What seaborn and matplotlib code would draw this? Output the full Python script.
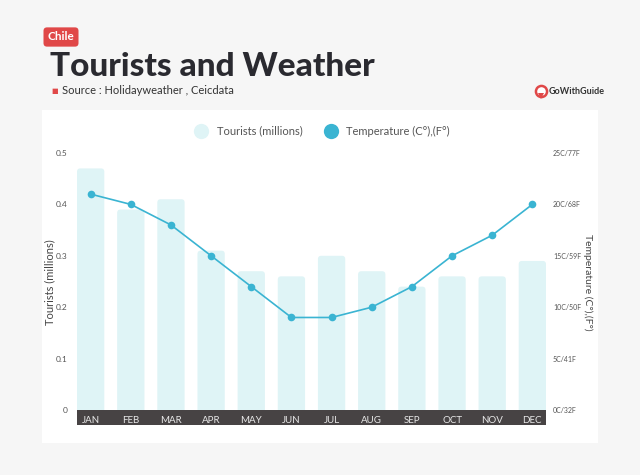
import numpy as np
import pandas as pd
import matplotlib.pyplot as plt
import seaborn as sns
from matplotlib.patches import FancyBboxPatch, Rectangle
from matplotlib.lines import Line2D

# data
months = ['JAN', 'FEB', 'MAR', 'APR', 'MAY', 'JUN', 'JUL', 'AUG', 'SEP', 'OCT', 'NOV', 'DEC']
tourists = [0.47, 0.39, 0.41, 0.31, 0.27, 0.26, 0.30, 0.27, 0.24, 0.26, 0.26, 0.29]
temperature = [21, 20, 18, 15, 12, 9, 9, 10, 12, 15, 17, 20]
temp_ticks = [0, 5, 10, 15, 20, 25]
temp_labels = ['0C/32F', '5C/41F', '10C/50F', '15C/59F', '20C/68F', '25C/77F']

bar_color = '#dff4f6'
line_color = '#3ab4d2'
text_gray = '#555555'

df = pd.DataFrame({'month': months, 'tourists': tourists, 'temp': temperature})

sns.set_style('white')
plt.rcParams['font.family'] = ['Lato', 'DejaVu Sans']

fig = plt.figure(figsize=(6.4, 4.75), dpi=100)
fig.patch.set_facecolor('#f6f6f6')

# white panel
fig.patches.append(Rectangle((42 / 640, 1 - 443 / 475), 556 / 640, 333 / 475,
                             transform=fig.transFigure, facecolor='white',
                             edgecolor='none', zorder=-10))

ax = fig.add_axes([77 / 640, 1 - 410 / 475, 469 / 640, 257 / 475])
ax.set_facecolor('none')

sns.barplot(data=df, x='month', y='tourists', color=bar_color, width=0.68,
            saturation=1, ax=ax)

# rounded tops for bars
for p in list(ax.patches):
    x, w, h = p.get_x(), p.get_width(), p.get_height()
    p.remove()
    ax.add_patch(FancyBboxPatch((x, -0.02), w, h + 0.02,
                                boxstyle='round,pad=0,rounding_size=0.08',
                                mutation_aspect=0.08, facecolor=bar_color,
                                edgecolor='none', zorder=1))

ax.set_ylim(0, 0.5)
ax.set_xlim(-0.34, 11.34)
ax.set_yticks([0, 0.1, 0.2, 0.3, 0.4, 0.5])
ax.set_yticklabels(['0', '0.1', '0.2', '0.3', '0.4', '0.5'])
ax.tick_params(axis='y', labelsize=6, colors=text_gray, length=0, pad=7)
ax.set_ylabel('')
ax.set_xlabel('')
ax.set_xticks(range(12))
ax.set_xticklabels(months)
ax.tick_params(axis='x', labelsize=7, colors='#e8e8e8', length=0, pad=4)
sns.despine(ax=ax, left=True, bottom=True)

# dark band behind month labels
ax.add_patch(Rectangle((0, -15 / 257), 1, 15 / 257, transform=ax.transAxes,
                       facecolor='#474344', edgecolor='none', clip_on=False,
                       zorder=0))

ax2 = ax.twinx()
sns.lineplot(x=np.arange(12), y=temperature, ax=ax2, color=line_color,
             linewidth=1.2, marker='o', markersize=5.5, markeredgewidth=0)
ax2.set_ylim(0, 25)
ax2.set_xlim(-0.34, 11.34)
ax2.set_yticks(temp_ticks)
ax2.set_yticklabels(temp_labels)
ax2.tick_params(axis='y', labelsize=5, colors=text_gray, length=0, pad=5)
ax2.set_ylabel('')
sns.despine(ax=ax2, left=True, bottom=True, right=True)

# axis titles placed where the reference has them
fig.text(50 / 640, 1 - 282 / 475, 'Tourists (millions)', fontsize=8,
         color='#444444', rotation=90, ha='center', va='center')
fig.text(588 / 640, 1 - 282 / 475, 'Temperature (C°),(F°)', fontsize=7.5,
         color='#444444', rotation=-90, ha='center', va='center')

# legend
handles = [Line2D([], [], marker='o', linestyle='none', markersize=11,
                  markerfacecolor=bar_color, markeredgewidth=0),
           Line2D([], [], marker='o', linestyle='none', markersize=11,
                  markerfacecolor=line_color, markeredgewidth=0)]
fig.legend(handles, ['Tourists (millions)', 'Temperature (C°),(F°)'],
           loc='center', bbox_to_anchor=(320 / 640, 1 - 131 / 475), ncol=2,
           frameon=False, fontsize=8, labelcolor=text_gray, handletextpad=0.4,
           columnspacing=1.5)

# header
fig.text(61 / 640, 1 - 37 / 475, 'Chile', fontsize=8.5, fontweight='bold',
         color='white', ha='center', va='center',
         bbox=dict(boxstyle='round,pad=0.35,rounding_size=0.3',
                   facecolor='#e04848', edgecolor='none'))
fig.text(50 / 640, 1 - 66 / 475, 'Tourists and Weather', fontsize=24,
         fontweight='black', color='#2a2a30', ha='left', va='center')
fig.text(51 / 640, 1 - 91 / 475, '■', fontsize=5, color='#e04848',
         ha='left', va='center', family=['DejaVu Sans'])
fig.text(62 / 640, 1 - 91 / 475, 'Source : Holidayweather , Ceicdata',
         fontsize=8, color='#333333', ha='left', va='center')

# logo: red ring mark + name
fig.add_artist(Line2D([541 / 640], [1 - 91 / 475], marker='o', markersize=8,
                      markerfacecolor='white', markeredgecolor='#e04848',
                      markeredgewidth=1.8, transform=fig.transFigure))
fig.add_artist(Line2D([541 / 640], [1 - 96 / 475], marker='v', markersize=4,
                      markerfacecolor='#e04848', markeredgewidth=0,
                      transform=fig.transFigure))
fig.text(549 / 640, 1 - 91 / 475, 'GoWithGuide', fontsize=6.5,
         fontweight='bold', color='#333333', ha='left', va='center')

fig.savefig('out.png', dpi=100, facecolor=fig.get_facecolor())
